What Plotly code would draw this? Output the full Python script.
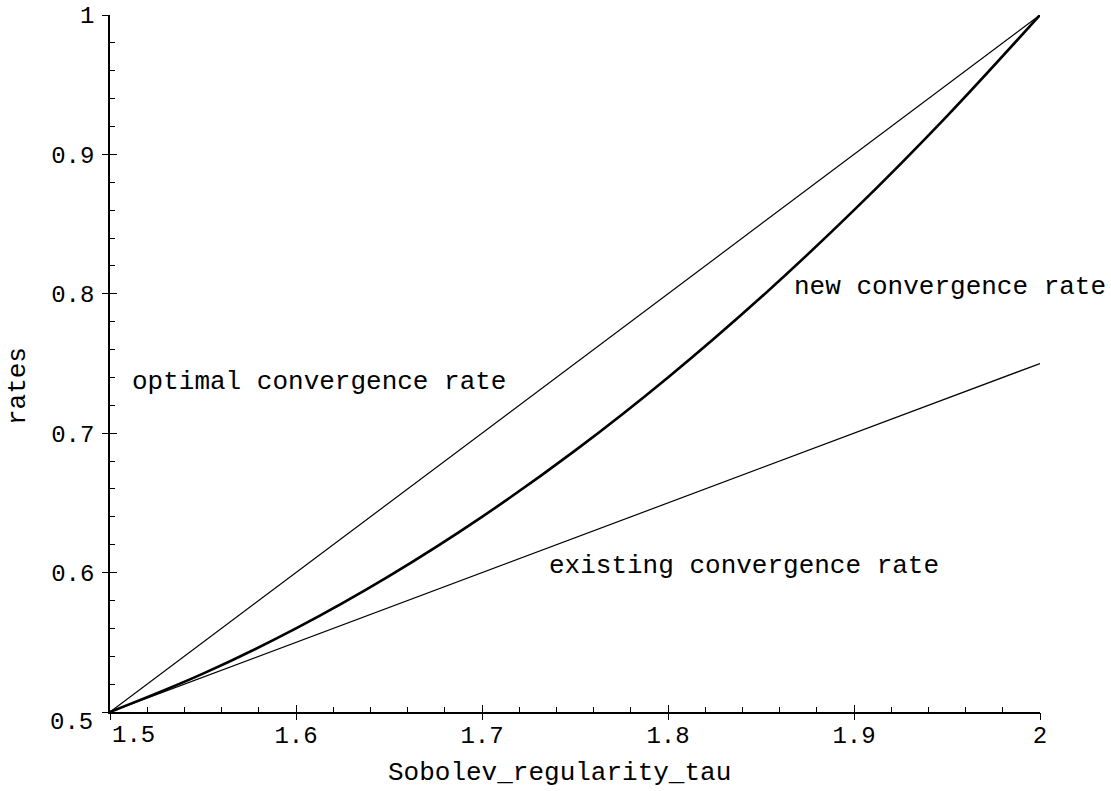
import plotly.graph_objects as go

# ---- data ----
tau_lines = [1.5, 2.0]
optimal_rate = [0.5, 1.0]
existing_rate = [0.5, 0.75]

tau_new = [1.50, 1.55, 1.60, 1.65, 1.70, 1.75, 1.80, 1.85, 1.90, 1.95, 2.00]
new_rate = [0.500, 0.5275, 0.560, 0.5975, 0.640, 0.6875, 0.740, 0.7975, 0.860, 0.9275, 1.000]

x_ticks = [1.5, 1.6, 1.7, 1.8, 1.9, 2.0]
x_tick_text = ["1.5", "1.6", "1.7", "1.8", "1.9", "2"]
y_ticks = [0.5, 0.6, 0.7, 0.8, 0.9, 1.0]
y_tick_text = ["0.5", "0.6", "0.7", "0.8", "0.9", "1"]

labels = [
    ("optimal convergence rate", 1.5108, 0.737),
    ("new convergence rate", 1.8667, 0.805),
    ("existing convergence rate", 1.735, 0.6047),
]

FONT = "Liberation Mono, Courier New, monospace"
TICK_FONT = dict(family=FONT, size=24, color="black")

fig = go.Figure()
fig.add_trace(go.Scatter(x=tau_lines, y=optimal_rate, mode="lines",
                         line=dict(color="black", width=1.2), showlegend=False))
fig.add_trace(go.Scatter(x=tau_lines, y=existing_rate, mode="lines",
                         line=dict(color="black", width=1.2), showlegend=False))
fig.add_trace(go.Scatter(x=tau_new, y=new_rate, mode="lines",
                         line=dict(color="black", width=2.6, shape="spline"),
                         showlegend=False))
# invisible trace to anchor the overlay axes (used for crossing tick marks)
fig.add_trace(go.Scatter(x=tau_lines, y=existing_rate, xaxis="x2", yaxis="y2",
                         mode="lines", line=dict(width=0), hoverinfo="skip",
                         showlegend=False))

for text, xv, yv in labels:
    fig.add_annotation(x=xv, y=yv, text=text, showarrow=False, xanchor="left",
                       yanchor="middle", font=dict(family=FONT, size=26, color="black"))

# origin tick labels are offset away from the corner (as in the reference)
fig.add_annotation(x=x_ticks[0], y=0, xref="x", yref="paper", text=x_tick_text[0],
                   showarrow=False, xanchor="left", yanchor="middle",
                   xshift=0, yshift=-23, font=TICK_FONT)
fig.add_annotation(x=0, y=y_ticks[0], xref="paper", yref="y", text=y_tick_text[0],
                   showarrow=False, xanchor="right", yanchor="middle",
                   xshift=-15, yshift=-10, font=TICK_FONT)

fig.add_annotation(x=0.4828, y=-0.0875, xref="paper", yref="paper",
                   xanchor="center", yanchor="middle",
                   text="Sobolev_regularity_tau", showarrow=False,
                   font=dict(family=FONT, size=26, color="black"))
fig.add_annotation(x=-0.0989, y=0.4677, xref="paper", yref="paper",
                   xanchor="center", yanchor="middle",
                   text="rates", showarrow=False, textangle=-90,
                   font=dict(family=FONT, size=26, color="black"))

fig.update_layout(
    width=1111, height=791,
    margin=dict(l=110, r=71, t=15, b=79, autoexpand=False),
    paper_bgcolor="white", plot_bgcolor="white",
    xaxis=dict(range=[x_ticks[0], x_ticks[-1]], tickvals=x_ticks[1:], ticktext=x_tick_text[1:],
               showgrid=False, zeroline=False, showline=True, linecolor="black",
               linewidth=1.5, ticks="inside", ticklen=7, tickwidth=1.3,
               tickcolor="black", tickfont=TICK_FONT, ticklabelstandoff=0,
               automargin=False,
               minor=dict(dtick=0.02, ticks="inside", ticklen=5, tickwidth=1.1,
                          tickcolor="black", showgrid=False)),
    yaxis=dict(range=[y_ticks[0], y_ticks[-1]], tickvals=y_ticks[1:], ticktext=y_tick_text[1:],
               showgrid=False, zeroline=False, showline=True, linecolor="black",
               linewidth=1.5, ticks="inside", ticklen=7, tickwidth=1.3,
               tickcolor="black", tickfont=TICK_FONT, ticklabelstandoff=9,
               automargin=False,
               minor=dict(dtick=0.02, ticks="inside", ticklen=5, tickwidth=1.1,
                          tickcolor="black", showgrid=False)),
    xaxis2=dict(range=[x_ticks[0], x_ticks[-1]], overlaying="x", anchor="y2",
                tickvals=x_ticks, showticklabels=False, showgrid=False,
                zeroline=False, showline=False, ticks="outside", ticklen=7,
                tickwidth=1.3, tickcolor="black", side="bottom", automargin=False),
    yaxis2=dict(range=[y_ticks[0], y_ticks[-1]], overlaying="y", anchor="x2",
                tickvals=y_ticks, showticklabels=False, showgrid=False,
                zeroline=False, showline=False, ticks="outside", ticklen=7,
                tickwidth=1.3, tickcolor="black", side="left", automargin=False),
)

fig.write_html(
    "out.html",
    config={"displayModeBar": False},
    post_script="document.body.style.margin='0';document.body.style.overflow='hidden';",
)
